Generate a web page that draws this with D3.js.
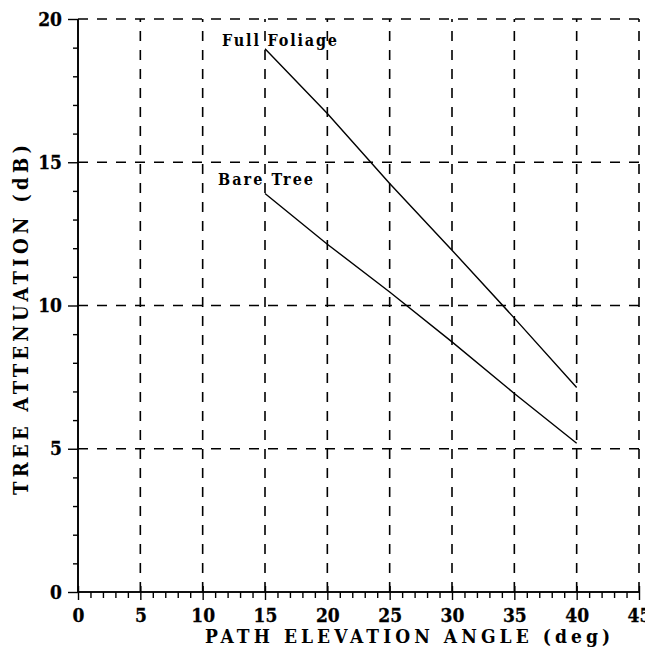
<!DOCTYPE html>
<html>
<head>
<meta charset="utf-8">
<script src="https://cdn.jsdelivr.net/npm/d3@7"></script>
<style>
  html, body { margin: 0; padding: 0; background: #fff; }
  svg { display: block; }
  text { font-family: "DejaVu Serif", serif; font-stretch: condensed; font-weight: bold; fill: #000; }
</style>
</head>
<body>
<svg id="chart" width="645" height="649"></svg>
<script>
// ---- data ----
const angles = [15, 20, 25, 30, 35, 40];
const fullFoliage = [18.96, 16.70, 14.26, 11.93, 9.56, 7.14];
const bareTree = [13.91, 12.14, 10.47, 8.73, 6.93, 5.19];
const seriesNames = ["Full Foliage", "Bare Tree"];
const xTicks = [0, 5, 10, 15, 20, 25, 30, 35, 40, 45];
const yTicks = [0, 5, 10, 15, 20];
const xTitle = "PATH ELEVATION ANGLE (deg)";
const yTitle = "TREE ATTENUATION (dB)";

// ---- layout ----
const svg = d3.select("#chart");
const x = d3.scaleLinear().domain([0, 45]).range([78, 639]);
const y = d3.scaleLinear().domain([0, 20]).range([592, 19]);

const grid = svg.append("g").attr("stroke", "#000").attr("stroke-width", 1.6)
  .attr("stroke-dasharray", "10,9").attr("fill", "none");
grid.selectAll("line.v").data(xTicks.filter(d => d > 0)).join("line")
  .attr("class", "v")
  .attr("x1", d => x(d)).attr("x2", d => x(d))
  .attr("y1", y(0)).attr("y2", y(20));
grid.selectAll("line.h").data(yTicks.filter(d => d > 0)).join("line")
  .attr("class", "h")
  .attr("x1", x(0)).attr("x2", x(45))
  .attr("y1", d => y(d)).attr("y2", d => y(d));

// minor ticks
const xMinor = d3.range(0, 46, 1).filter(d => d % 5 !== 0);
const yMinor = d3.range(0, 21, 1).filter(d => d % 5 !== 0);

const xAxis = svg.append("g").attr("transform", `translate(0,${y(0)})`)
  .call(d3.axisBottom(x).tickValues(xMinor).tickSize(6).tickFormat(""));
const xAxisMajor = svg.append("g").attr("transform", `translate(0,${y(0)})`)
  .call(d3.axisBottom(x).tickValues(xTicks).tickSize(8).tickPadding(15).tickFormat(d3.format("d")));
xAxisMajor.selectAll(".tick").append("line").attr("y1", -6).attr("y2", 0).attr("stroke", "#000");

const yAxis = svg.append("g").attr("transform", `translate(${x(0)},0)`)
  .call(d3.axisLeft(y).tickValues(yMinor).tickSize(5).tickFormat(""));
const yAxisMajor = svg.append("g").attr("transform", `translate(${x(0)},0)`)
  .call(d3.axisLeft(y).tickValues(yTicks).tickSize(10).tickPadding(6).tickFormat(d3.format("d")));

[xAxis, xAxisMajor, yAxis, yAxisMajor].forEach(g => {
  g.attr("font-family", null).attr("font-size", null);
  g.select(".domain").attr("stroke", "#000").attr("stroke-width", 1.6);
  g.selectAll(".tick line").attr("stroke", "#000").attr("stroke-width", 1.4);
  g.selectAll(".tick text")
    .style("font-size", "19px").attr("fill", "#000")
    .attr("stroke", "#000").attr("stroke-width", 0.3);
});
xAxis.select(".domain").attr("d", `M${x(0)},0H${x(45)}`);
xAxisMajor.select(".domain").attr("d", `M${x(0)},0H${x(45)}`);
yAxis.select(".domain").attr("d", `M0,${y(0)}V${y(20)}`);
yAxisMajor.select(".domain").attr("d", `M0,${y(0)}V${y(20)}`);
xAxisMajor.selectAll(".tick text").attr("dy", "0.35em");

// ---- series ----
const line = d3.line().x(d => x(d[0])).y(d => y(d[1]));
const series = [fullFoliage, bareTree];
svg.append("g").selectAll("path").data(series).join("path")
  .attr("d", s => line(angles.map((a, i) => [a, s[i]])))
  .attr("fill", "none").attr("stroke", "#000").attr("stroke-width", 1.4);

// series labels
const labelPos = [{x: 222, y: 46, w: 115}, {x: 218, y: 185, w: 95}];
svg.append("g").selectAll("text").data(seriesNames).join("text")
  .attr("x", (d, i) => labelPos[i].x).attr("y", (d, i) => labelPos[i].y)
  .attr("textLength", (d, i) => labelPos[i].w).attr("lengthAdjust", "spacing")
  .style("font-size", "16px").text(d => d);

// axis titles
svg.append("text").attr("x", 205).attr("y", 643)
  .attr("textLength", 405).attr("lengthAdjust", "spacing")
  .style("font-size", "19px").text(xTitle);
svg.append("text")
  .attr("transform", "translate(28,495) rotate(-90)")
  .attr("x", 0).attr("y", 0)
  .attr("textLength", 350).attr("lengthAdjust", "spacing")
  .style("font-size", "20px").text(yTitle);
</script>
</body>
</html>
